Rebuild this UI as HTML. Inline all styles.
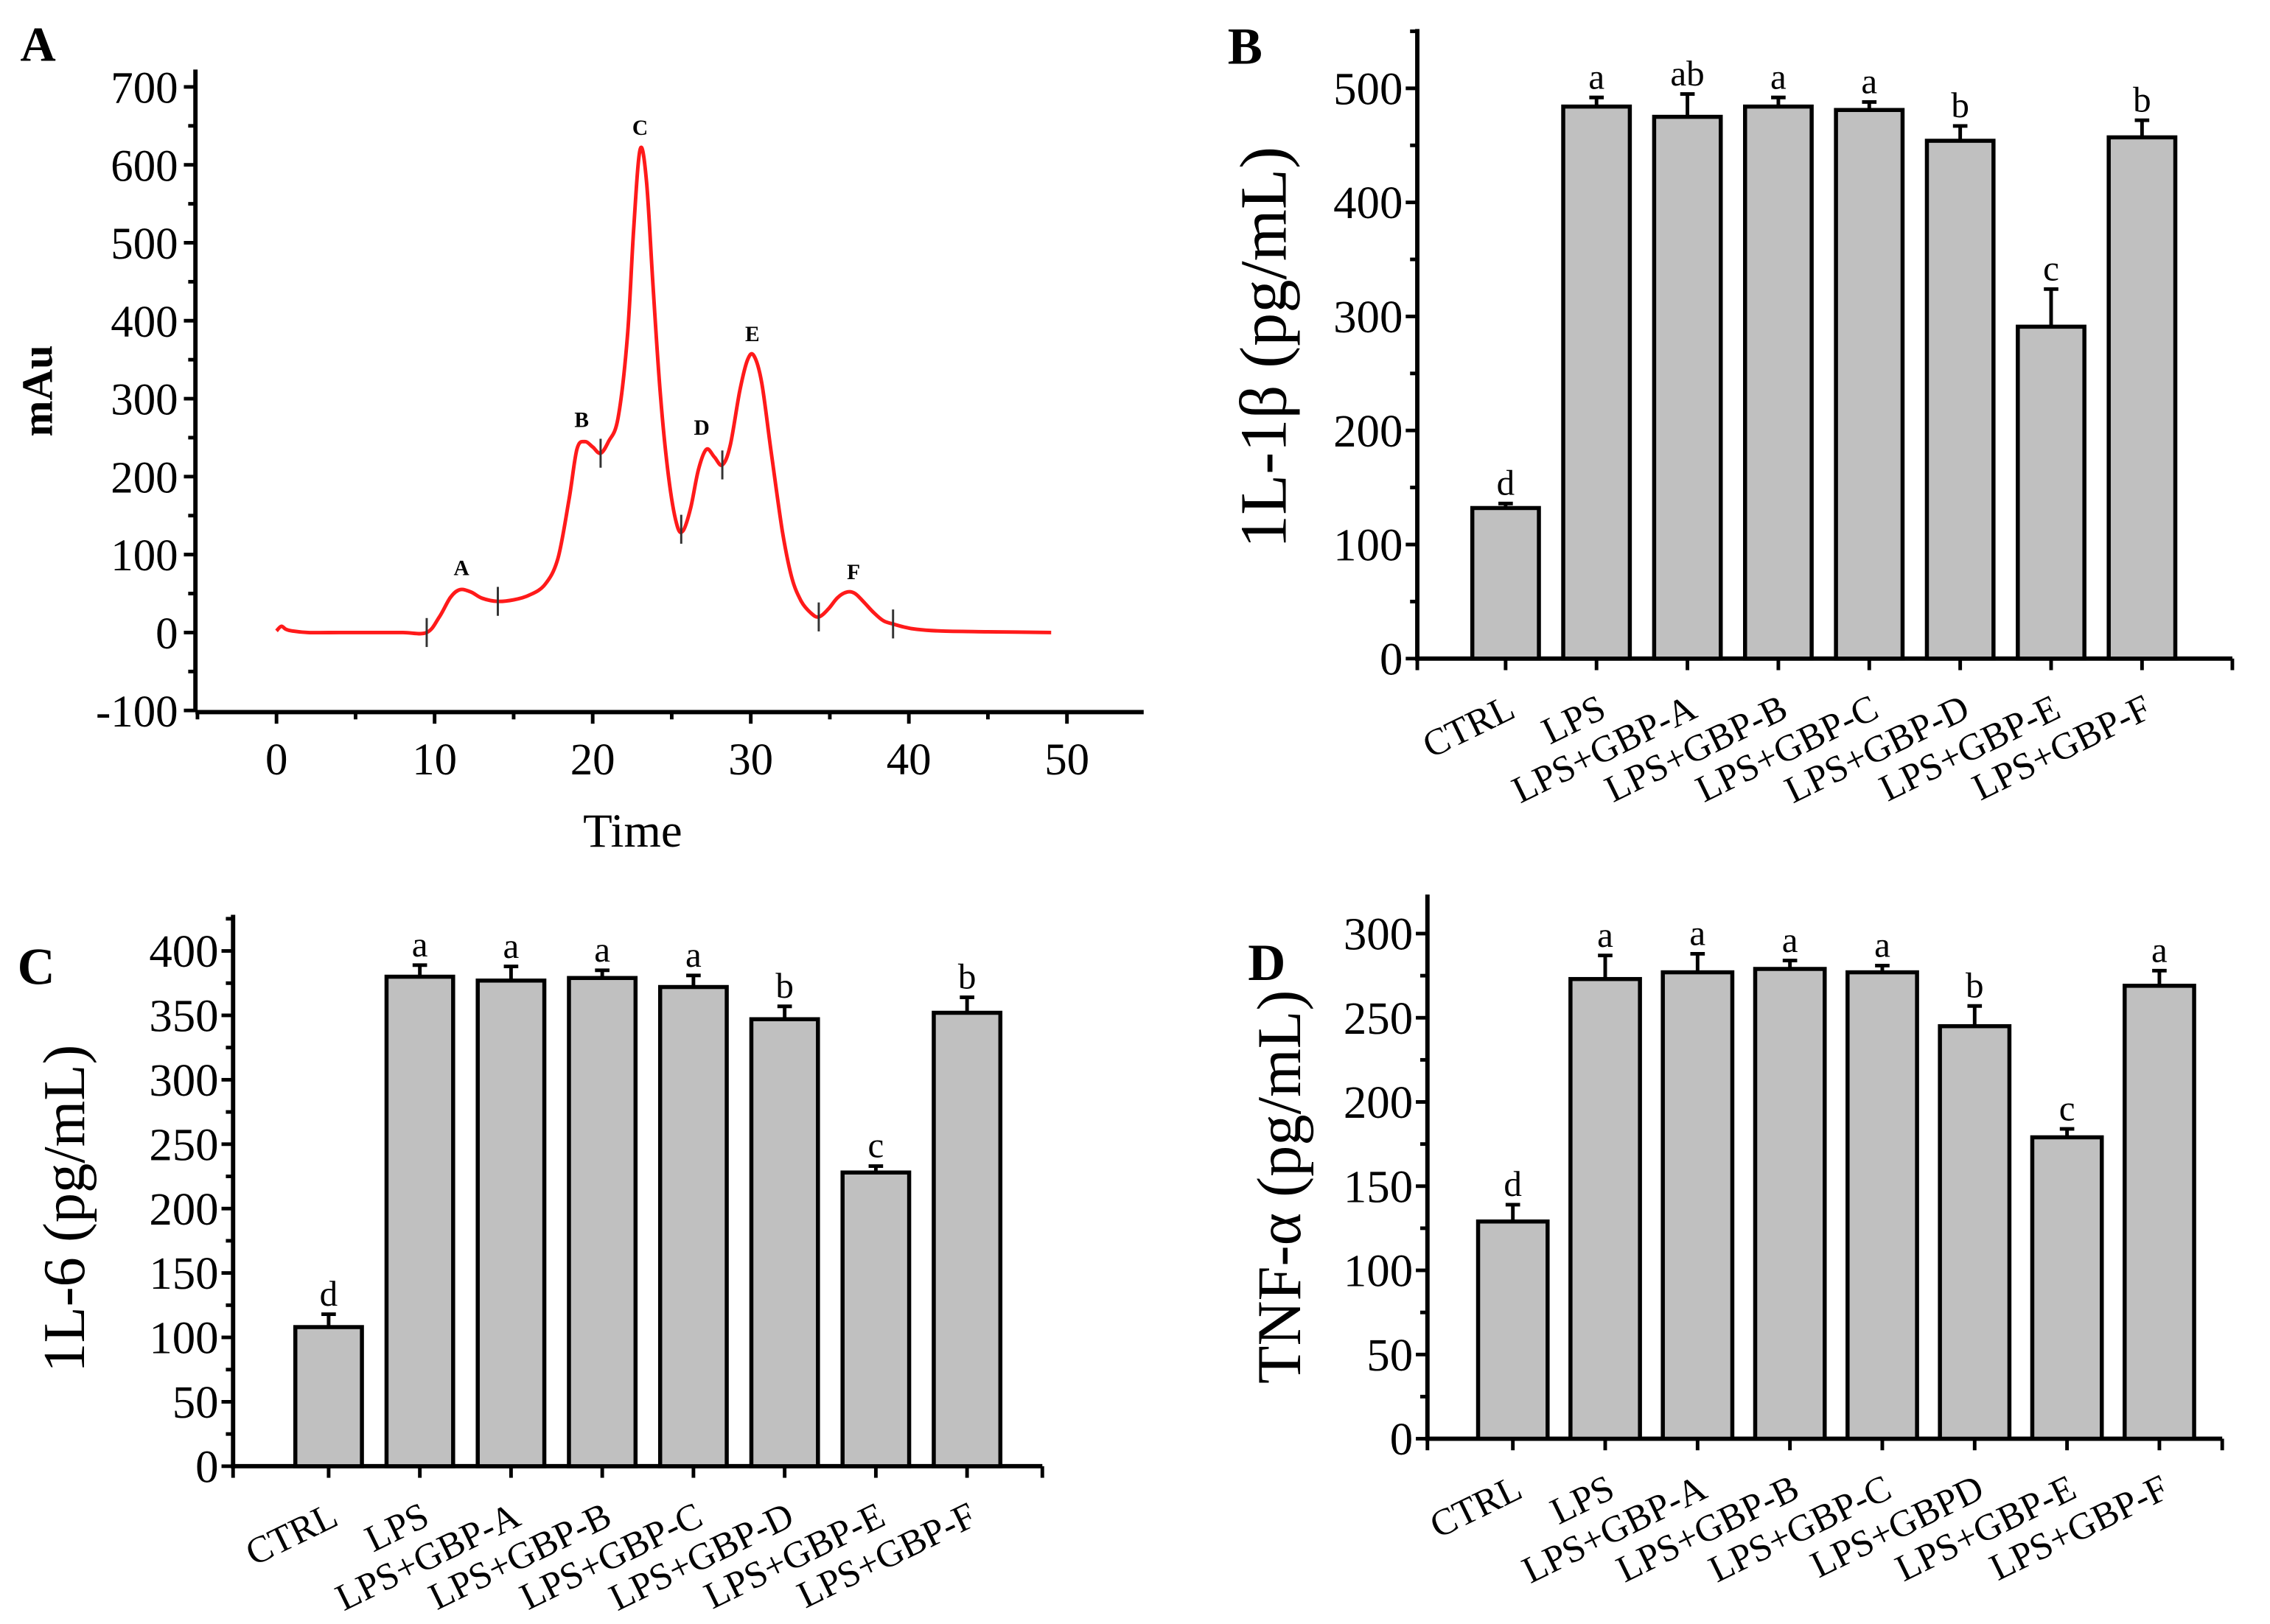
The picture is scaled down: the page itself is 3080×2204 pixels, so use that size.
<!DOCTYPE html>
<html><head><meta charset="utf-8">
<style>
html,body{margin:0;padding:0;background:#fff;}
svg{display:block;font-family:"Liberation Serif","DejaVu Serif",serif;}
</style></head>
<body>
<svg id="fig" xmlns="http://www.w3.org/2000/svg" width="3080" height="2204" viewBox="0 0 1568 1122"></svg>
<script>
// ---- Panel A data (chromatogram) ----
const chromTime = [0,0.3,0.6,1,2,4,6,8,9.5,10.3,11,11.6,12.3,13,14,15,16,17,17.8,18.5,19,19.5,20,20.5,21,21.6,22.2,22.6,23,23.4,23.8,24.3,24.8,25.3,25.7,26.2,26.7,27.2,27.7,28.2,28.7,29.3,29.8,30.2,30.7,31.3,32,32.6,33.2,33.8,34.3,34.9,35.5,36.1,36.6,37.2,37.8,38.4,39,39.7,40.5,42,45,49];
const chromVal  = [2,8,4,2,0,0,0,0,0,20,45,55,52,44,40,42,48,62,95,170,235,245,238,230,245,275,380,520,620,580,450,300,200,140,130,160,210,235,225,215,240,310,350,355,320,230,130,70,40,25,20,30,45,52,50,38,25,15,11,7,4,2,1,0];
const peakMarks = [9.5,14,20.5,25.6,28.2,34.3,39];
const peakLabels = ["A","B","C","D","E","F"];
const peakLabelTime = [11.7,19.3,23,26.9,30.1,36.5];
const peakLabelVal = [55,245,620,235,355,50];
const aYTicks = [-100,0,100,200,300,400,500,600,700];
const aXTicks = [0,10,20,30,40,50];

// ---- Bar panels data ----
const groupsBC = ["CTRL","LPS","LPS+GBP-A","LPS+GBP-B","LPS+GBP-C","LPS+GBP-D","LPS+GBP-E","LPS+GBP-F"];
const groupsD  = ["CTRL","LPS","LPS+GBP-A","LPS+GBP-B","LPS+GBP-C","LPS+GBPD","LPS+GBP-E","LPS+GBP-F"];
const il1bVals = [132,484,475,484,481,454,291,457];
const il1bErr  = [4,8,20,8,7,13,33,15];
const il1bSig  = ["d","a","ab","a","a","b","c","b"];
const il1bTicks = [0,100,200,300,400,500];
const il6Vals = [108,380,377,379,372,347,228,352];
const il6Err  = [10,9,11,6,9,10,5,12];
const il6Sig  = ["d","a","a","a","a","b","c","b"];
const il6Ticks = [0,50,100,150,200,250,300,350,400];
const tnfVals = [129,273,277,279,277,245,179,269];
const tnfErr  = [10,14,11,5,4,12,5,9];
const tnfSig  = ["d","a","a","a","a","b","c","a"];
const tnfTicks = [0,50,100,150,200,250,300];

const NS="http://www.w3.org/2000/svg";
const svg=document.getElementById('fig');
function mk(tag,attrs,parent,txt){const e=document.createElementNS(NS,tag);for(const k in attrs)e.setAttribute(k,attrs[k]);if(txt!==undefined)e.textContent=txt;(parent||svg).appendChild(e);return e;}

// ---------- Panel A ----------
(function(){
  const g=mk('g',{});
  
  
  const x0=135,x1=790,yTop=48,yBot=492;
  const sx=t=>191+(t-0)*(737-191)/50;
  const sy=v=>437-(v)*(437-60)/700;
  const ya=mk('line',{x1:x0,y1:yTop,x2:x0,y2:yBot,stroke:'#000','stroke-width':3},g);
  
  const xa=mk('line',{x1:x0,y1:yBot,x2:x1,y2:yBot,stroke:'#000','stroke-width':3},g);
  
  for(let v=-100;v<=700;v+=50){const y=sy(v);const major=(v%100===0);mk('line',{x1:x0-(major?8:5),y1:y,x2:x0,y2:y,stroke:'#000','stroke-width':2.5},g);}
  aYTicks.forEach(v=>{const t=mk('text',{x:x0-12,y:sy(v)+11,'text-anchor':'end','font-size':31},g,String(v));});
  for(let t=-5;t<=55;t+=5){const x=sx(t);if(x<x0||x>x1)continue;const major=(t%10===0);mk('line',{x1:x,y1:yBot,x2:x,y2:yBot+(major?8:5),stroke:'#000','stroke-width':2.5},g);}
  aXTicks.forEach(t=>{const e=mk('text',{x:sx(t),y:yBot+43,'text-anchor':'middle','font-size':31},g,String(t));});
  const xt=mk('text',{x:437,y:585,'text-anchor':'middle','font-size':33},g,'Time');
  
  const yt=mk('text',{x:0,y:0,'text-anchor':'middle','font-size':30,'font-weight':'bold',transform:'translate(36,270) rotate(-90)'},g,'mAu');
  
  const pl=mk('text',{x:14,y:42,'font-size':34,'font-weight':'bold'},g,'A');
  
  const P=chromTime.map((t,i)=>[sx(t),sy(chromVal[i])]);
  let d='M'+P[0][0].toFixed(1)+' '+P[0][1].toFixed(1);
  for(let i=0;i<P.length-1;i++){
    const p0=P[Math.max(0,i-1)],p1=P[i],p2=P[i+1],p3=P[Math.min(P.length-1,i+2)];
    const c1=[p1[0]+(p2[0]-p0[0])/6,p1[1]+(p2[1]-p0[1])/6];
    const c2=[p2[0]-(p3[0]-p1[0])/6,p2[1]-(p3[1]-p1[1])/6];
    d+=' C'+c1[0].toFixed(1)+' '+c1[1].toFixed(1)+' '+c2[0].toFixed(1)+' '+c2[1].toFixed(1)+' '+p2[0].toFixed(1)+' '+p2[1].toFixed(1);
  }
  const p=mk('path',{d:d,fill:'none',stroke:'#ff1a1a','stroke-width':2.5,'stroke-linejoin':'round'},g);
  
  function interp(t){for(let i=1;i<chromTime.length;i++){if(chromTime[i]>=t){const f=(t-chromTime[i-1])/(chromTime[i]-chromTime[i-1]);return chromVal[i-1]+f*(chromVal[i]-chromVal[i-1]);}}return 0;}
  peakMarks.forEach(t=>{const y=sy(interp(t));const m=mk('line',{x1:sx(t),y1:y-10,x2:sx(t),y2:y+10,stroke:'#333','stroke-width':1.5},g);});
  peakLabels.forEach((l,i)=>{const e=mk('text',{x:sx(peakLabelTime[i]),y:sy(peakLabelVal[i])-10,'text-anchor':'middle','font-size':15,'font-weight':'bold'},g,l);});
})();

// ---------- Bar panel ----------
function barPanel(o){
  const g=mk('g',{});
  
  
  const sy=v=>o.y0-v*(o.y0-o.yMaxPix)/o.yMax;
  const ya=mk('line',{x1:o.x0,y1:o.yTop,x2:o.x0,y2:o.y0+1.5,stroke:'#000','stroke-width':3},g);
  
  const xa=mk('line',{x1:o.x0-1.5,y1:o.y0,x2:o.x1,y2:o.y0,stroke:'#000','stroke-width':3},g);
  
  const step=o.ticks[1]-o.ticks[0];
  for(let v=0;v<=o.yMax+step*0.6;v+=step/2){const y=sy(v);if(y<o.yTop)break;const major=Math.abs(v/step-Math.round(v/step))<1e-6;mk('line',{x1:o.x0-(major?8:5),y1:y,x2:o.x0,y2:y,stroke:'#000','stroke-width':2.5},g);}
  o.ticks.forEach(v=>{const t=mk('text',{x:o.x0-10,y:sy(v)+11,'text-anchor':'end','font-size':32},g,String(v));});
  const cx=i=>o.c0+i*o.dx;
  mk('line',{x1:o.x0,y1:o.y0,x2:o.x0,y2:o.y0+8,stroke:'#000','stroke-width':2.5},g);
  mk('line',{x1:o.x1,y1:o.y0,x2:o.x1,y2:o.y0+8,stroke:'#000','stroke-width':2.5},g);
  o.groups.forEach((name,i)=>{
    const x=cx(i),top=sy(o.vals[i]),et=sy(o.vals[i]+o.err[i]);
    mk('line',{x1:x,y1:o.y0,x2:x,y2:o.y0+8,stroke:'#000','stroke-width':2.5},g);
    const eb=mk('line',{x1:x,y1:top,x2:x,y2:et,stroke:'#000','stroke-width':2.5},g);
    
    mk('line',{x1:x-5,y1:et,x2:x+5,y2:et,stroke:'#000','stroke-width':2.5},g);
    const r=mk('rect',{x:x-o.bw/2,y:top,width:o.bw,height:o.y0-top,fill:'#c0c0c0',stroke:'#000','stroke-width':2.8},g);
    
    
    const s=mk('text',{x:x,y:et-6,'text-anchor':'middle','font-size':25},g,o.sig[i]);
    
    const lx=x+8,ly=o.y0+40;
    const l=mk('text',{x:lx,y:ly,'text-anchor':'end','font-size':26,transform:'rotate(-26 '+lx+' '+ly+')'},g,name);
    
  });
  const yt=mk('text',{x:0,y:0,'text-anchor':'middle','font-size':o.titleSize,transform:'translate('+o.titleX+','+o.titleY+') rotate(-90)'},g,o.title);
  
  const pl=mk('text',{x:o.labelX,y:o.labelY,'font-size':36,'font-weight':'bold'},g,o.label);
  
}

barPanel({name:'panel-b-il1b',groups:groupsBC,vals:il1bVals,err:il1bErr,sig:il1bSig,ticks:il1bTicks,
  x0:979,x1:1542,y0:455,yTop:20,yMax:500,yMaxPix:61,c0:1040,dx:62.8,bw:46,
  title:'1L-1β (pg/mL)',titleX:888,titleY:240,titleSize:46,label:'B',labelX:848,labelY:44});
barPanel({name:'panel-c-il6',groups:groupsBC,vals:il6Vals,err:il6Err,sig:il6Sig,ticks:il6Ticks,
  x0:161,x1:720,y0:1013,yTop:632,yMax:400,yMaxPix:657,c0:227,dx:63,bw:46,
  title:'1L-6 (pg/mL)',titleX:58,titleY:835,titleSize:41,label:'C',labelX:12,labelY:680});
barPanel({name:'panel-d-tnf',groups:groupsD,vals:tnfVals,err:tnfErr,sig:tnfSig,ticks:tnfTicks,
  x0:986,x1:1535,y0:994,yTop:618,yMax:300,yMaxPix:645,c0:1045,dx:63.8,bw:48,
  title:'TNF-α (pg/mL)',titleX:898,titleY:820,titleSize:43,label:'D',labelX:862,labelY:677});
</script>
</body></html>
